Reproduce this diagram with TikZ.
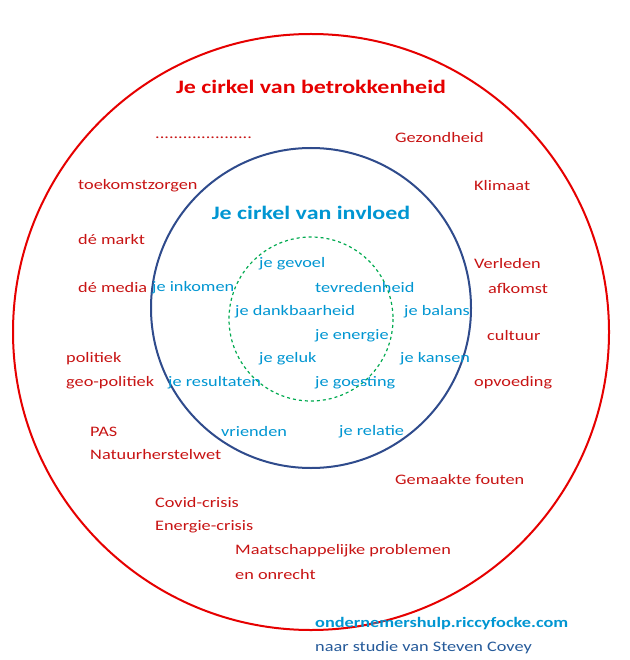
\documentclass[tikz,border=0pt]{standalone}
\usepackage{fontspec}
\setmainfont{Carlito}[FakeStretch=1.26]
\definecolor{rd}{RGB}{230,0,0}
\definecolor{rt}{RGB}{200,20,20}
\definecolor{nv}{RGB}{47,75,140}
\definecolor{lb}{RGB}{0,150,210}
\definecolor{gr}{RGB}{0,170,80}
\tikzset{t/.style={anchor=west,inner sep=0pt,font=\fontsize{14.5}{16}\selectfont},
 r/.style={t,text=rt}, b/.style={t,text=lb}}
\begin{document}
\begin{tikzpicture}[x=1pt,y=-1pt]
\useasboundingbox (0,0) rectangle (629,660);
\fill[white] (0,0) rectangle (629,660);
\draw[rd,line width=2pt] (311,332) circle (298);
\draw[nv,line width=2pt] (311,308) circle (160);
\draw[gr,line width=1.2pt,dashed] (311,319) circle (82);
\node[text=rd,font=\bfseries\fontsize{19}{22}\selectfont] (t1) at (311,87) {Je cirkel van betrokkenheid};
\node[text=lb,font=\bfseries\fontsize{19}{22}\selectfont] (t2) at (311,213) {Je cirkel van invloed};
\node[r] (a1) at (155,138) {.....................};
\node[r] (a2) at (395,138) {Gezondheid};
\node[r] (a3) at (78,186) {toekomstzorgen};
\node[r] (a4) at (474,186) {Klimaat};
\node[r] (a5) at (78,240) {dé markt};
\node[r] (a6) at (474,264) {Verleden};
\node[r] (a7) at (78,288) {dé media};
\node[r] (a8) at (488,288) {afkomst};
\node[r] (a9) at (487,336) {cultuur};
\node[r] (a10) at (66,359) {politiek};
\node[r] (a11) at (66,383) {geo-politiek};
\node[r] (a12) at (474,383) {opvoeding};
\node[r] (a13) at (90,432) {PAS};
\node[r] (a14) at (90,455) {Natuurherstelwet};
\node[r] (a15) at (395,480) {Gemaakte fouten};
\node[r] (a16) at (155,503) {Covid-crisis};
\node[r] (a17) at (155,527) {Energie-crisis};
\node[r] (a18) at (235,551) {Maatschappelijke problemen};
\node[r] (a19) at (235,575) {en onrecht};
\node[b] (b1) at (259,264) {je gevoel};
\node[b] (b2) at (152,288) {je inkomen};
\node[b] (b3) at (315,288) {tevredenheid};
\node[b] (b4) at (235,312) {je dankbaarheid};
\node[b] (b5) at (404,312) {je balans};
\node[b] (b6) at (315,336) {je energie};
\node[b] (b7) at (259,359) {je geluk};
\node[b] (b8) at (400,359) {je kansen};
\node[b] (b9) at (168,383) {je resultaten};
\node[b] (b10) at (315,383) {je goesting};
\node[b] (b11) at (221,432) {vrienden};
\node[b] (b12) at (339,432) {je relatie};
\node[b,font=\bfseries\fontsize{14.5}{16}\selectfont] (c1) at (315,624) {ondernemershulp.riccyfocke.com};
\node[b,text=nv!80!lb] (c2) at (315,648) {naar studie van Steven Covey};
\end{tikzpicture}
\end{document}
